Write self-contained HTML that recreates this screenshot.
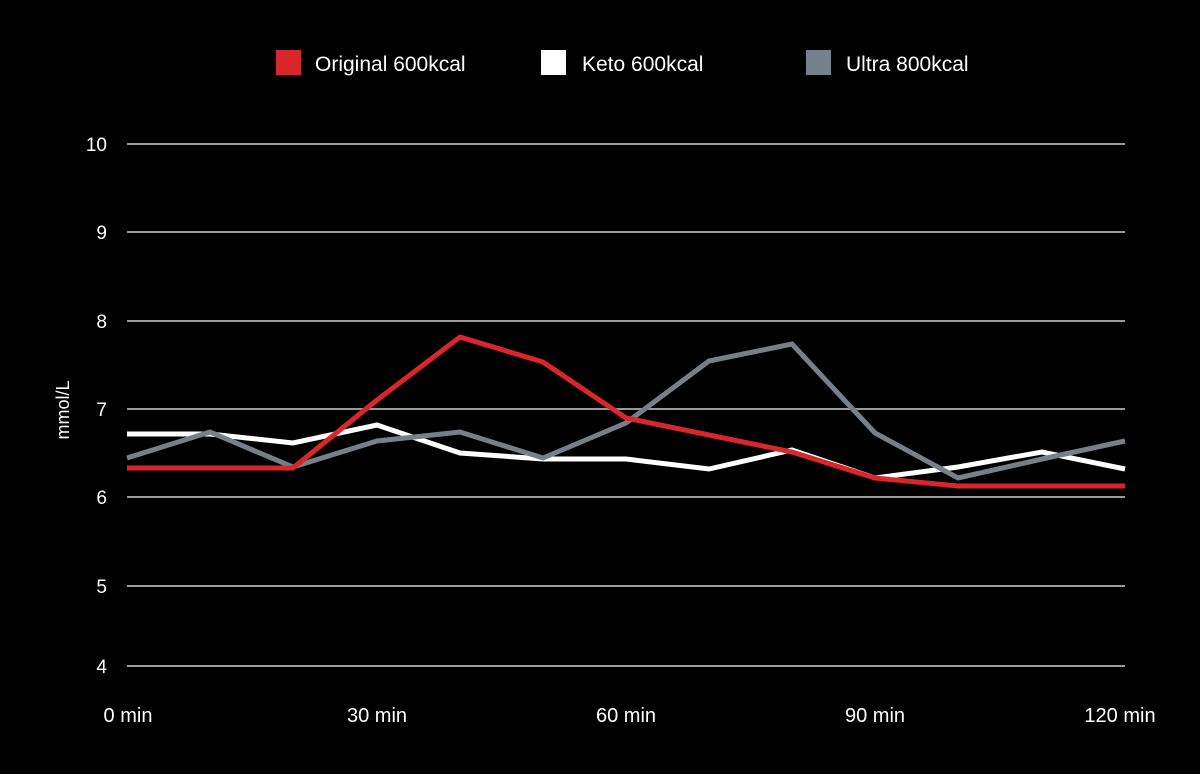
<!DOCTYPE html>
<html><head><style>
html,body{margin:0;padding:0;background:#000;}
svg{display:block;}
text{font-family:"Liberation Sans",sans-serif;fill:#fff;}
</style></head><body>
<svg width="1200" height="774" viewBox="0 0 1200 774">
<rect width="1200" height="774" fill="#000"/>
<g stroke="#9a9a9a" stroke-width="2">
<line x1="127" x2="1125" y1="144" y2="144"/>
<line x1="127" x2="1125" y1="232" y2="232"/>
<line x1="127" x2="1125" y1="321" y2="321"/>
<line x1="127" x2="1125" y1="409" y2="409"/>
<line x1="127" x2="1125" y1="497" y2="497"/>
<line x1="127" x2="1125" y1="586" y2="586"/>
<line x1="127" x2="1125" y1="666" y2="666"/>
</g>
<g font-size="19" text-anchor="end">
<text x="107" y="151">10</text>
<text x="107" y="239">9</text>
<text x="107" y="328">8</text>
<text x="107" y="416">7</text>
<text x="107" y="504">6</text>
<text x="107" y="593">5</text>
<text x="107" y="673">4</text>
</g>
<text transform="translate(69,410) rotate(-90)" font-size="18" text-anchor="middle">mmol/L</text>
<g font-size="20" text-anchor="middle">
<text x="128" y="722">0 min</text>
<text x="377" y="722">30 min</text>
<text x="626" y="722">60 min</text>
<text x="875" y="722">90 min</text>
<text x="1120" y="722">120 min</text>
</g>
<g fill="none" stroke-width="5" stroke-linejoin="miter">
<polyline stroke="#ffffff" points="127,434 210,434 293,443 377,425 460,453 543,459 626,459 709,469 792,450 875,478 958,467 1042,452 1125,469"/>
<polyline stroke="#75808a" points="127,458 210,432 293,467 377,441 460,432 543,458 626,423 709,361 792,344 875,433 958,478 1042,459 1125,441"/>
<polyline stroke="#d8262b" points="127,468 210,468 293,468 377,400 460,337 543,362 626,418 709,435 792,452 875,478 958,486 1042,486 1125,486"/>
</g>
<rect x="276" y="50" width="25" height="25" fill="#d8262b"/>
<text x="315" y="71" font-size="21">Original 600kcal</text>
<rect x="541" y="50" width="25" height="25" fill="#fff"/>
<text x="582" y="71" font-size="21">Keto 600kcal</text>
<rect x="806" y="50" width="25" height="25" fill="#75808a"/>
<text x="846" y="71" font-size="21">Ultra 800kcal</text>
</svg>
</body></html>
